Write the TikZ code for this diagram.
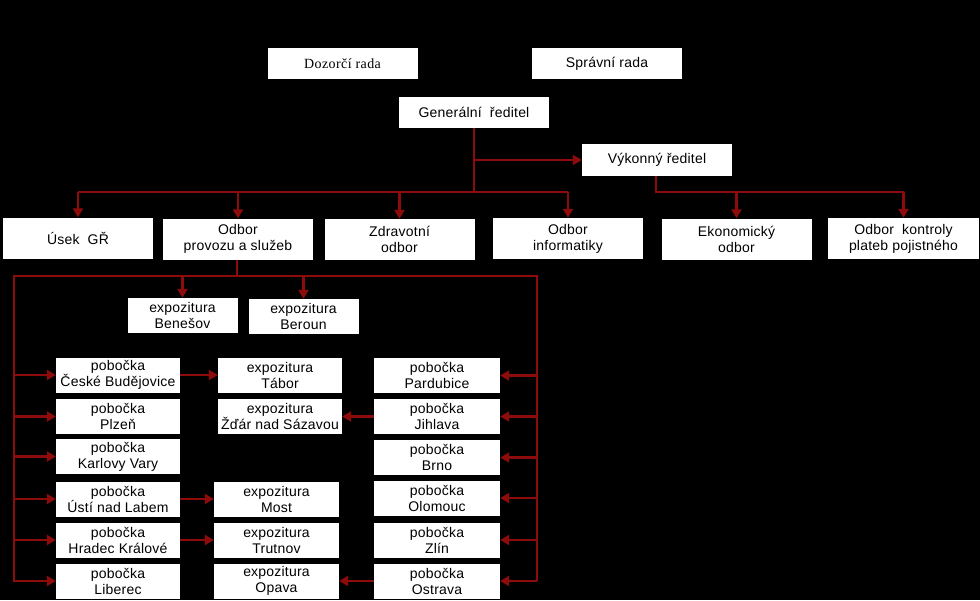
\documentclass[tikz,border=0pt]{standalone}
\usepackage{fontspec}
\setmainfont{Liberation Sans}[LetterSpace=1.5]
\newfontfamily\boardserif{Liberation Serif}[LetterSpace=3]
\usetikzlibrary{arrows.meta}
\definecolor{linkred}{HTML}{8E0B0B}

\begin{document}
\begin{tikzpicture}[
  x=1pt, y=-1pt,
  box/.style={fill=white, draw=none, inner sep=1pt, align=center,
              font=\fontsize{14}{16}\selectfont},
  board/.style={box, minimum width=150pt, minimum height=31pt},
  dept/.style={box, minimum width=150pt, minimum height=41pt},
  branch/.style={box, minimum width=124pt, minimum height=35pt},
  office/.style={box, minimum width=110pt, minimum height=35pt},
  link/.style={linkred, line width=2.5pt},
  feed/.style={link, -{Triangle[length=9pt, width=10pt]}},
]

\fill[black] (0, 0) rectangle (980, 600);
\useasboundingbox (0, 0) rectangle (980, 600);

\node[board, font=\boardserif\fontsize{14}{16}\selectfont] (dozorci) at (342.5, 63.5) {Dozorčí rada};
\node[board] (spravni) at (607, 63.5) {Správní rada};
\node[board] (general) at (474, 112.5) {Generální~ ředitel};
\node[board, minimum height=32pt] (vykonny) at (657, 160) {Výkonný ředitel};

\node[dept] (usek) at (78, 238) {Úsek~ GŘ};
\node[dept] (provoz) at (238, 239) {Odbor\\provozu a služeb};
\node[dept] (zdrav) at (399.5, 239.5) {Zdravotní\\odbor};
\node[dept] (inform) at (568, 238.5) {Odbor\\informatiky};
\node[dept] (ekonom) at (736.5, 239) {Ekonomický\\odbor};
\node[dept, minimum width=151pt] (kontrol) at (903.5, 238.5) {Odbor~ kontroly\\plateb pojistného};

\node[office] (benesov) at (182.5, 315.5) {expozitura\\Benešov};
\node[office] (beroun) at (303.5, 316.5) {expozitura\\Beroun};

\node[branch] (budejovice) at (118, 375) {pobočka\\České Budějovice};
\node[branch] (plzen) at (118, 416.5) {pobočka\\Plzeň};
\node[branch] (vary) at (118, 456.5) {pobočka\\Karlovy Vary};
\node[branch] (usti) at (118, 499) {pobočka\\Ústí nad Labem};
\node[branch] (hradec) at (118, 540) {pobočka\\Hradec Králové};
\node[branch] (liberec) at (118, 581) {pobočka\\Liberec};

\node[branch] (tabor) at (280, 375) {expozitura\\Tábor};
\node[branch] (zdar) at (280, 416.5) {expozitura\\Žďár nad Sázavou};
\node[branch, minimum width=125pt] (most) at (276.5, 499) {expozitura\\Most};
\node[branch, minimum width=125pt] (trutnov) at (276.5, 540) {expozitura\\Trutnov};
\node[branch, minimum width=125pt] (opava) at (276.5, 581) {expozitura\\Opava};

\node[branch, minimum width=126pt] (pardubice) at (437, 375.5) {pobočka\\Pardubice};
\node[branch, minimum width=126pt] (jihlava) at (437, 416.5) {pobočka\\Jihlava};
\node[branch, minimum width=126pt] (brno) at (437, 457.5) {pobočka\\Brno};
\node[branch, minimum width=126pt] (olomouc) at (437, 498) {pobočka\\Olomouc};
\node[branch, minimum width=126pt] (zlin) at (437, 540) {pobočka\\Zlín};
\node[branch, minimum width=126pt] (ostrava) at (437, 581) {pobočka\\Ostrava};

% bus lines
\coordinate (grbus) at (474, 192);
\coordinate (vrbus) at (656, 192);
\coordinate (pbus) at (237, 276);
\coordinate (lefttop) at (14, 276);
\coordinate (leftbot) at (14, 582);
\coordinate (righttop) at (537, 276);
\coordinate (rightbot) at (537, 581);

\draw[link] (general.south) -- (grbus);
\draw[link] (usek.north |- grbus) -- (inform.north |- grbus);
\draw[feed] (general.south |- vykonny.west) -- (vykonny.west);
\draw[feed] (usek.north |- grbus) -- (usek.north);
\draw[feed] (provoz.north |- grbus) -- (provoz.north);
\draw[feed] (zdrav.north |- grbus) -- (zdrav.north);
\draw[feed] (inform.north |- grbus) -- (inform.north);

\draw[link] (vykonny.south -| vrbus) -- (vrbus) -- (kontrol.north |- vrbus);
\draw[feed] (ekonom.north |- vrbus) -- (ekonom.north);
\draw[feed] (kontrol.north |- vrbus) -- (kontrol.north);

\draw[link] (provoz.south -| pbus) -- (pbus);
\draw[link] (leftbot) -- (lefttop) -- (righttop) -- (rightbot);
\draw[feed] (benesov.north |- pbus) -- (benesov.north);
\draw[feed] (beroun.north |- pbus) -- (beroun.north);

\draw[feed] (lefttop |- budejovice.west) -- (budejovice.west);
\draw[feed] (lefttop |- plzen.west) -- (plzen.west);
\draw[feed] (lefttop |- vary.west) -- (vary.west);
\draw[feed] (lefttop |- usti.west) -- (usti.west);
\draw[feed] (lefttop |- hradec.west) -- (hradec.west);
\draw[feed] (lefttop |- liberec.west) -- (liberec.west);

\draw[feed] (righttop |- pardubice.east) -- (pardubice.east);
\draw[feed] (righttop |- jihlava.east) -- (jihlava.east);
\draw[feed] (righttop |- brno.east) -- (brno.east);
\draw[feed] (righttop |- olomouc.east) -- (olomouc.east);
\draw[feed] (righttop |- zlin.east) -- (zlin.east);
\draw[feed] (righttop |- ostrava.east) -- (ostrava.east);

\draw[feed] (budejovice) -- (tabor);
\draw[feed] (usti) -- (most);
\draw[feed] (hradec) -- (trutnov);
\draw[feed] (jihlava) -- (zdar);
\draw[feed] (ostrava) -- (opava);

\end{tikzpicture}
\end{document}
